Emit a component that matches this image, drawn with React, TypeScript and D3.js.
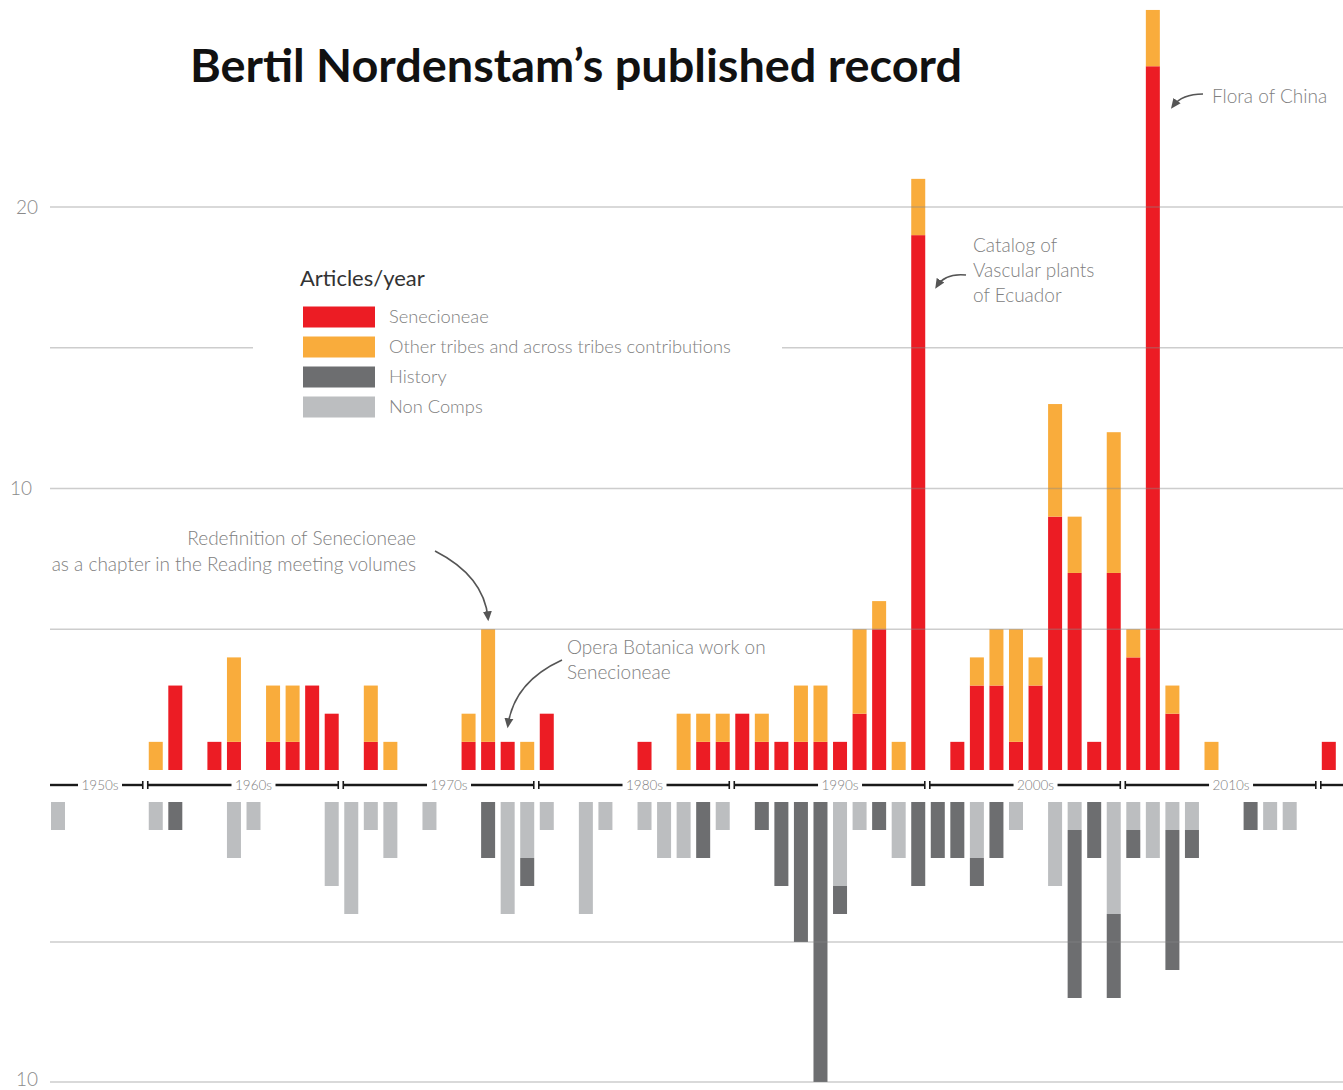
import React from "react";
import * as d3 from "d3";

const years = [
  1955, 1956, 1957, 1958, 1959, 1960, 1961, 1962, 1963, 1964, 1965, 1966, 1967, 1968, 1969,
  1970, 1971, 1972, 1973, 1974, 1975, 1976, 1977, 1978, 1979, 1980, 1981, 1982, 1983, 1984,
  1985, 1986, 1987, 1988, 1989, 1990, 1991, 1992, 1993, 1994, 1995, 1996, 1997, 1998, 1999,
  2000, 2001, 2002, 2003, 2004, 2005, 2006, 2007, 2008, 2009, 2010, 2011, 2012, 2013, 2014,
  2015, 2016, 2017, 2018, 2019, 2020,
];
// upper: articles per year
const senecioneae = [
  0, 0, 0, 0, 0, 0, 3, 0, 1, 1, 0, 1, 1, 3, 2,
  0, 1, 0, 0, 0, 0, 1, 1, 1, 0, 2, 0, 0, 0, 0,
  1, 0, 0, 1, 1, 2, 1, 1, 1, 1, 1, 2, 5, 0, 19,
  0, 1, 3, 3, 1, 3, 9, 7, 1, 7, 4, 25, 2, 0, 0,
  0, 0, 0, 0, 0, 1,
];
const otherTribes = [
  0, 0, 0, 0, 0, 1, 0, 0, 0, 3, 0, 2, 2, 0, 0,
  0, 2, 1, 0, 0, 0, 1, 4, 0, 1, 0, 0, 0, 0, 0,
  0, 0, 2, 1, 1, 0, 1, 0, 2, 2, 0, 3, 1, 1, 2,
  0, 0, 1, 2, 4, 1, 4, 2, 0, 5, 1, 2, 1, 0, 1,
  0, 0, 0, 0, 0, 0,
];
// lower
const nonComps = [
  1, 0, 0, 0, 0, 1, 0, 0, 0, 2, 1, 0, 0, 0, 3,
  4, 1, 2, 0, 1, 0, 0, 0, 4, 2, 1, 0, 4, 1, 0,
  1, 2, 2, 0, 1, 0, 0, 0, 0, 0, 3, 1, 0, 2, 0,
  0, 0, 2, 0, 1, 0, 3, 1, 0, 4, 1, 2, 1, 1, 0,
  0, 0, 1, 1, 0, 0,
];
const history = [
  0, 0, 0, 0, 0, 0, 1, 0, 0, 0, 0, 0, 0, 0, 0,
  0, 0, 0, 0, 0, 0, 0, 2, 0, 1, 0, 0, 0, 0, 0,
  0, 0, 0, 2, 0, 0, 1, 3, 5, 10, 1, 0, 1, 0, 3,
  2, 2, 1, 2, 0, 0, 0, 6, 2, 3, 1, 0, 5, 1, 0,
  0, 1, 0, 0, 0, 0,
];
const decades = [1950, 1960, 1970, 1980, 1990, 2000, 2010, 2020];
const decadeLabels = ["1950s", "1960s", "1970s", "1980s", "1990s", "2000s", "2010s", ""];
const upperTicks = [5, 10, 15, 20];
const upperTickLabels = ["", "10", "", "20"];
const lowerTicks = [5, 10];
const lowerTickLabels = ["", "10"];
const legendItems = ["Senecioneae", "Other tribes and across tribes contributions", "History", "Non Comps"];

const C = {
  red: "#EC1C24",
  orange: "#F9AC3C",
  dark: "#6D6E70",
  light: "#BCBEC0",
};
const legendColors = [C.red, C.orange, C.dark, C.light];
const FONT = "Lato, 'Open Sans', sans-serif";

export default function App() {
  const W = 1343, H = 1090;
  const x = d3.scaleBand<number>().domain(years).range([51, 1335.8]).paddingInner(0.284).paddingOuter(0);
  const bw = x.bandwidth();
  const yUp = d3.scaleLinear().domain([0, 20]).range([770, 207]);
  const yDn = d3.scaleLinear().domain([0, 10]).range([802, 1082]);
  const xl = (yr: number) => {
    const v = x(yr);
    return v === undefined ? 51 + (yr - 1955) * x.step() : v;
  };

  const stackUp = d3.stack<any>().keys(["sen", "oth"])(
    years.map((yr, i) => ({ yr, sen: senecioneae[i], oth: otherTribes[i] }))
  );
  const stackDn = d3.stack<any>().keys(["non", "his"])(
    years.map((yr, i) => ({ yr, non: nonComps[i], his: history[i] }))
  );
  const upColors = [C.red, C.orange];
  const dnColors = [C.light, C.dark];

  const stripY = 785;
  const arrowColor = "#555";

  return (
    <svg width={W} height={H} style={{ position: "absolute", left: 0, top: 0, background: "#fff" }} fontFamily={FONT}>
      <defs>
        <marker id="ah" viewBox="0 0 10 10" refX="6" refY="5" markerWidth="7" markerHeight="7" orient="auto-start-reverse">
          <path d="M0,1 L9,5 L0,9 z" fill={arrowColor} />
        </marker>
      </defs>
      <rect width={W} height={H} fill="#fff" />

      {/* upper bars */}
      {stackUp.map((s, k) => (
        <g key={"u" + k} fill={upColors[k]}>
          {s.map((d: any, i: number) =>
            d[1] - d[0] > 0 ? (
              <rect key={i} x={xl(years[i])} width={bw} y={yUp(d[1])} height={yUp(d[0]) - yUp(d[1])} />
            ) : null
          )}
        </g>
      ))}
      {/* lower bars */}
      {stackDn.map((s, k) => (
        <g key={"d" + k} fill={dnColors[k]}>
          {s.map((d: any, i: number) =>
            d[1] - d[0] > 0 ? (
              <rect key={i} x={xl(years[i])} width={bw} y={yDn(d[0])} height={yDn(d[1]) - yDn(d[0])} />
            ) : null
          )}
        </g>
      ))}

      {/* gridlines */}
      <g stroke="#888" strokeOpacity={0.42} strokeWidth={1.5}>
        {upperTicks.map((t) => (
          <line key={"gu" + t} x1={50} x2={W} y1={yUp(t)} y2={yUp(t)} />
        ))}
        {lowerTicks.map((t) => (
          <line key={"gd" + t} x1={50} x2={W} y1={yDn(t)} y2={yDn(t)} />
        ))}
      </g>
      <g fill="#8a8a8a" fontSize={19} fontWeight={300} textAnchor="end">
        {upperTicks.map((t, i) => (
          <text key={"lu" + t} x={t === 10 ? 32 : 38} y={yUp(t)} dy="0.35em">{upperTickLabels[i]}</text>
        ))}
        {lowerTicks.map((t, i) => (
          <text key={"ld" + t} x={38} y={yDn(t) - 3} dy="0.35em">{lowerTickLabels[i]}</text>
        ))}
      </g>

      {/* decade strip */}
      <g>
        {decades.map((d, i) => {
          const start = d === 1950 ? 50 : xl(d) - 1;
          const end = d === 2020 ? W + 5 : xl(d + 10) - 6;
          const cx = d === 1950 ? 100 : xl(d + 5) + bw / 2;
          const label = decadeLabels[i];
          return (
            <g key={d} stroke="#1a1a1a" strokeWidth={2.4}>
              {label ? (
                <>
                  <line x1={start} x2={cx - 22} y1={stripY} y2={stripY} />
                  <line x1={cx + 22} x2={end} y1={stripY} y2={stripY} />
                  <text x={cx} y={stripY} dy="0.36em" textAnchor="middle" fontSize={13.5} fontWeight={300} fill="#808080" stroke="none">
                    {label}
                  </text>
                </>
              ) : (
                <line x1={start} x2={end} y1={stripY} y2={stripY} />
              )}
              {d !== 1950 && <line x1={start} x2={start} y1={stripY - 4} y2={stripY + 4} strokeWidth={1.6} />}
              {d !== 2020 && <line x1={end} x2={end} y1={stripY - 4} y2={stripY + 4} strokeWidth={1.6} />}
            </g>
          );
        })}
      </g>

      {/* legend */}
      <rect x={253} y={250} width={529} height={180} fill="#fff" />
      <text x={300} y={286} fontSize={22} fill="#333" fontWeight={400}>Articles/year</text>
      {legendItems.map((t, i) => (
        <g key={t}>
          <rect x={303} y={306.5 + i * 30} width={72} height={21} fill={legendColors[i]} />
          <text x={389} y={317 + i * 30} dy="0.35em" fontSize={18.3} fontWeight={300} fill="#808080">{t}</text>
        </g>
      ))}

      {/* title */}
      <text x={190} y={82} fontSize={45} fontWeight={700} fill="#111" textLength={772} lengthAdjust="spacingAndGlyphs">
        Bertil Nordenstam’s published record
      </text>

      {/* annotations */}
      <g fontSize={19} fontWeight={300} fill="#808080">
        <text x={416} y={538} dy="0.35em" textAnchor="end">Redefinition of Senecioneae</text>
        <text x={416} y={564} dy="0.35em" textAnchor="end">as a chapter in the Reading meeting volumes</text>
        <text x={567} y={647} dy="0.35em">Opera Botanica work on</text>
        <text x={567} y={672} dy="0.35em">Senecioneae</text>
        <text x={973} y={245} dy="0.35em">Catalog of</text>
        <text x={973} y={270} dy="0.35em">Vascular plants</text>
        <text x={973} y={295} dy="0.35em">of Ecuador</text>
        <text x={1212} y={96} dy="0.35em">Flora of China</text>
      </g>
      <g fill="none" stroke={arrowColor} strokeWidth={1.6}>
        <path d="M435,551 Q484,576 488,618" markerEnd="url(#ah)" />
        <path d="M562,660 Q514,682 508,725" markerEnd="url(#ah)" />
        <path d="M966,275 Q945,273 937,286" markerEnd="url(#ah)" />
        <path d="M1203,94 Q1182,94 1173,106" markerEnd="url(#ah)" />
      </g>
    </svg>
  );
}
